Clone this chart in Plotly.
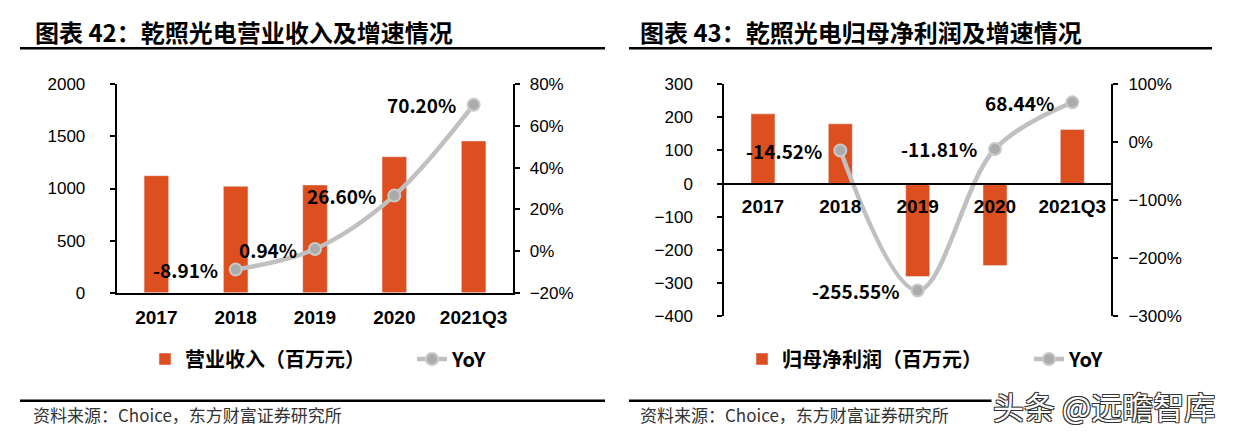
import plotly.graph_objects as go

W, H = 1233, 437

# ---------------- data ----------------
categories = ["2017", "2018", "2019", "2020", "2021Q3"]
revenue = [1123, 1021, 1034, 1305, 1456]            # 营业收入（百万元）
revenue_yoy = [None, -8.91, 0.94, 26.60, 70.20]      # %
profit = [210, 180, -280, -247, 163]                 # 归母净利润（百万元）
profit_yoy = [None, -14.52, -255.55, -11.81, 68.44]  # %

title_left = "图表 42：乾照光电营业收入及增速情况"
title_right = "图表 43：乾照光电归母净利润及增速情况"
bar_name_left = "营业收入（百万元）"
bar_name_right = "归母净利润（百万元）"
line_name = "YoY"
source_text = "资料来源：Choice，东方财富证券研究所"
watermark = "头条 @远瞻智库"

# ---------------- styles ----------------
BAR = "#DE4F20"
LINE = "#C0C0C0"
MARK = "#ABABAB"
CJK = "Noto Sans CJK SC"
SANS = "Liberation Sans, Arial"


def px_x(p):
    return p / W


def px_y(p):
    return 1 - p / H


pos = list(range(len(categories)))
x_range = [-0.5, len(categories) - 0.5]

xd1 = [px_x(116.7), px_x(513.3)]
yd1 = [px_y(292.7), px_y(84.3)]
xd2 = [px_x(724.3), px_x(1111)]
yd2 = [px_y(316.3), px_y(84.0)]
y3_range = [-400, 300]
zero_pos = yd2[0] + (0 - y3_range[0]) / (y3_range[1] - y3_range[0]) * (yd2[1] - yd2[0])

fig = go.Figure()

line_style = dict(shape="spline", smoothing=1.0, color=LINE, width=4.5)
marker_style = dict(size=12, color=MARK, line=dict(color="#C9C9C9", width=2))

fig.add_trace(go.Bar(x=pos, y=revenue, name=bar_name_left, marker_color=BAR,
                     width=0.31, xaxis="x", yaxis="y", legend="legend"))
fig.add_trace(go.Scatter(x=pos[1:], y=revenue_yoy[1:], name=line_name, mode="lines+markers",
                         line=line_style, marker=marker_style, xaxis="x", yaxis="y2",
                         legend="legend"))
fig.add_trace(go.Bar(x=pos, y=profit, name=bar_name_right, marker_color=BAR,
                     width=0.31, xaxis="x2", yaxis="y3", legend="legend2"))
fig.add_trace(go.Scatter(x=pos[1:], y=profit_yoy[1:], name=line_name, mode="lines+markers",
                         line=line_style, marker=marker_style, xaxis="x2", yaxis="y4",
                         legend="legend2"))

tick_font = dict(family=SANS, size=17, color="black")
cat_font = dict(family=SANS, size=19, color="black", weight="bold")
axis_common = dict(showgrid=False, zeroline=False, showline=True, linecolor="black",
                   linewidth=2, ticks="outside", ticklen=5, tickwidth=2, tickcolor="black",
                   tickfont=tick_font, fixedrange=True)
xaxis_common = dict(range=x_range, tickmode="array", tickvals=pos, ticktext=categories,
                    showgrid=False, zeroline=False, showline=True, linecolor="black",
                    linewidth=2, ticks="", tickfont=cat_font, ticklabelstandoff=6,
                    fixedrange=True)

legend_font = dict(family=CJK, size=20, color="black", weight="bold")
fig.update_layout(
    width=W, height=H,
    margin=dict(l=0, r=0, t=0, b=0, autoexpand=False),
    paper_bgcolor="white", plot_bgcolor="rgba(0,0,0,0)",
    showlegend=True,
    xaxis=dict(domain=xd1, anchor="y", **xaxis_common),
    yaxis=dict(domain=yd1, anchor="x", range=[0, 2000], dtick=500, side="left",
               ticklabelstandoff=21, **axis_common),
    yaxis2=dict(domain=yd1, anchor="x", overlaying="y", side="right", range=[-20, 80],
                dtick=20, ticksuffix="%", ticklabelstandoff=6, **axis_common),
    xaxis2=dict(domain=xd2, anchor="free", position=zero_pos, **xaxis_common),
    yaxis3=dict(domain=yd2, anchor="x2", range=y3_range, dtick=100, side="left",
                ticklabelstandoff=21, **axis_common),
    yaxis4=dict(domain=yd2, anchor="x2", overlaying="y3", side="right", range=[-300, 100],
                dtick=100, ticksuffix="%", ticklabelstandoff=7, **axis_common),
    legend=dict(orientation="h", x=px_x(145), y=px_y(359), xanchor="left", yanchor="middle",
                font=legend_font, bgcolor="rgba(0,0,0,0)", entrywidth=222,
                entrywidthmode="pixels", traceorder="normal"),
    legend2=dict(orientation="h", x=px_x(742), y=px_y(359), xanchor="left", yanchor="middle",
                 font=legend_font, bgcolor="rgba(0,0,0,0)", entrywidth=242,
                 entrywidthmode="pixels", traceorder="normal"),
)

label_font = dict(family=CJK, size=19, color="black", weight="bold")
annotations = []
for i, v in zip(pos, revenue_yoy):
    if v is None:
        continue
    annotations.append(dict(x=i, y=v, xref="x", yref="y2", text=f"{v:.2f}%",
                            showarrow=False, xanchor="right", yanchor="middle",
                            xshift=-16, font=label_font))
for i, v in zip(pos, profit_yoy):
    if v is None:
        continue
    annotations.append(dict(x=i, y=v, xref="x2", yref="y4", text=f"{v:.2f}%",
                            showarrow=False, xanchor="right", yanchor="middle",
                            xshift=-16, font=label_font))

title_font = dict(family=CJK, size=24, color="black", weight="bold")
source_font = dict(family=CJK, size=17, color="#333333")
annotations += [
    dict(x=px_x(33), y=px_y(31.7), xref="paper", yref="paper", text=title_left,
         showarrow=False, xanchor="left", yanchor="middle", font=title_font),
    dict(x=px_x(638), y=px_y(31.7), xref="paper", yref="paper", text=title_right,
         showarrow=False, xanchor="left", yanchor="middle", font=title_font),
    dict(x=px_x(31), y=px_y(414), xref="paper", yref="paper", text=source_text,
         showarrow=False, xanchor="left", yanchor="middle", font=source_font),
    dict(x=px_x(638), y=px_y(414), xref="paper", yref="paper", text=source_text,
         showarrow=False, xanchor="left", yanchor="middle", font=source_font),
    dict(x=px_x(991), y=px_y(405), xref="paper", yref="paper", text=watermark,
         showarrow=False, xanchor="left", yanchor="middle", bgcolor="white",
         font=dict(family=CJK, size=31, color="white",
                   shadow="1px 1px 0 #333, -1px -1px 0 #333, 1px -1px 0 #333, -1px 1px 0 #333")),
]
fig.update_layout(annotations=annotations)

hline = dict(type="line", xref="paper", yref="paper", line=dict(color="black", width=2.5))
fig.update_layout(shapes=[
    dict(hline, x0=px_x(20), x1=px_x(605), y0=px_y(48.3), y1=px_y(48.3)),
    dict(hline, x0=px_x(629), x1=px_x(1212), y0=px_y(48.3), y1=px_y(48.3)),
    dict(hline, x0=px_x(20), x1=px_x(605), y0=px_y(400.7), y1=px_y(400.7)),
    dict(hline, x0=px_x(629), x1=px_x(1212), y0=px_y(400.7), y1=px_y(400.7)),
])

fig.write_html("out.html", config={"displayModeBar": False},
               post_script="document.body.style.margin='0';")
